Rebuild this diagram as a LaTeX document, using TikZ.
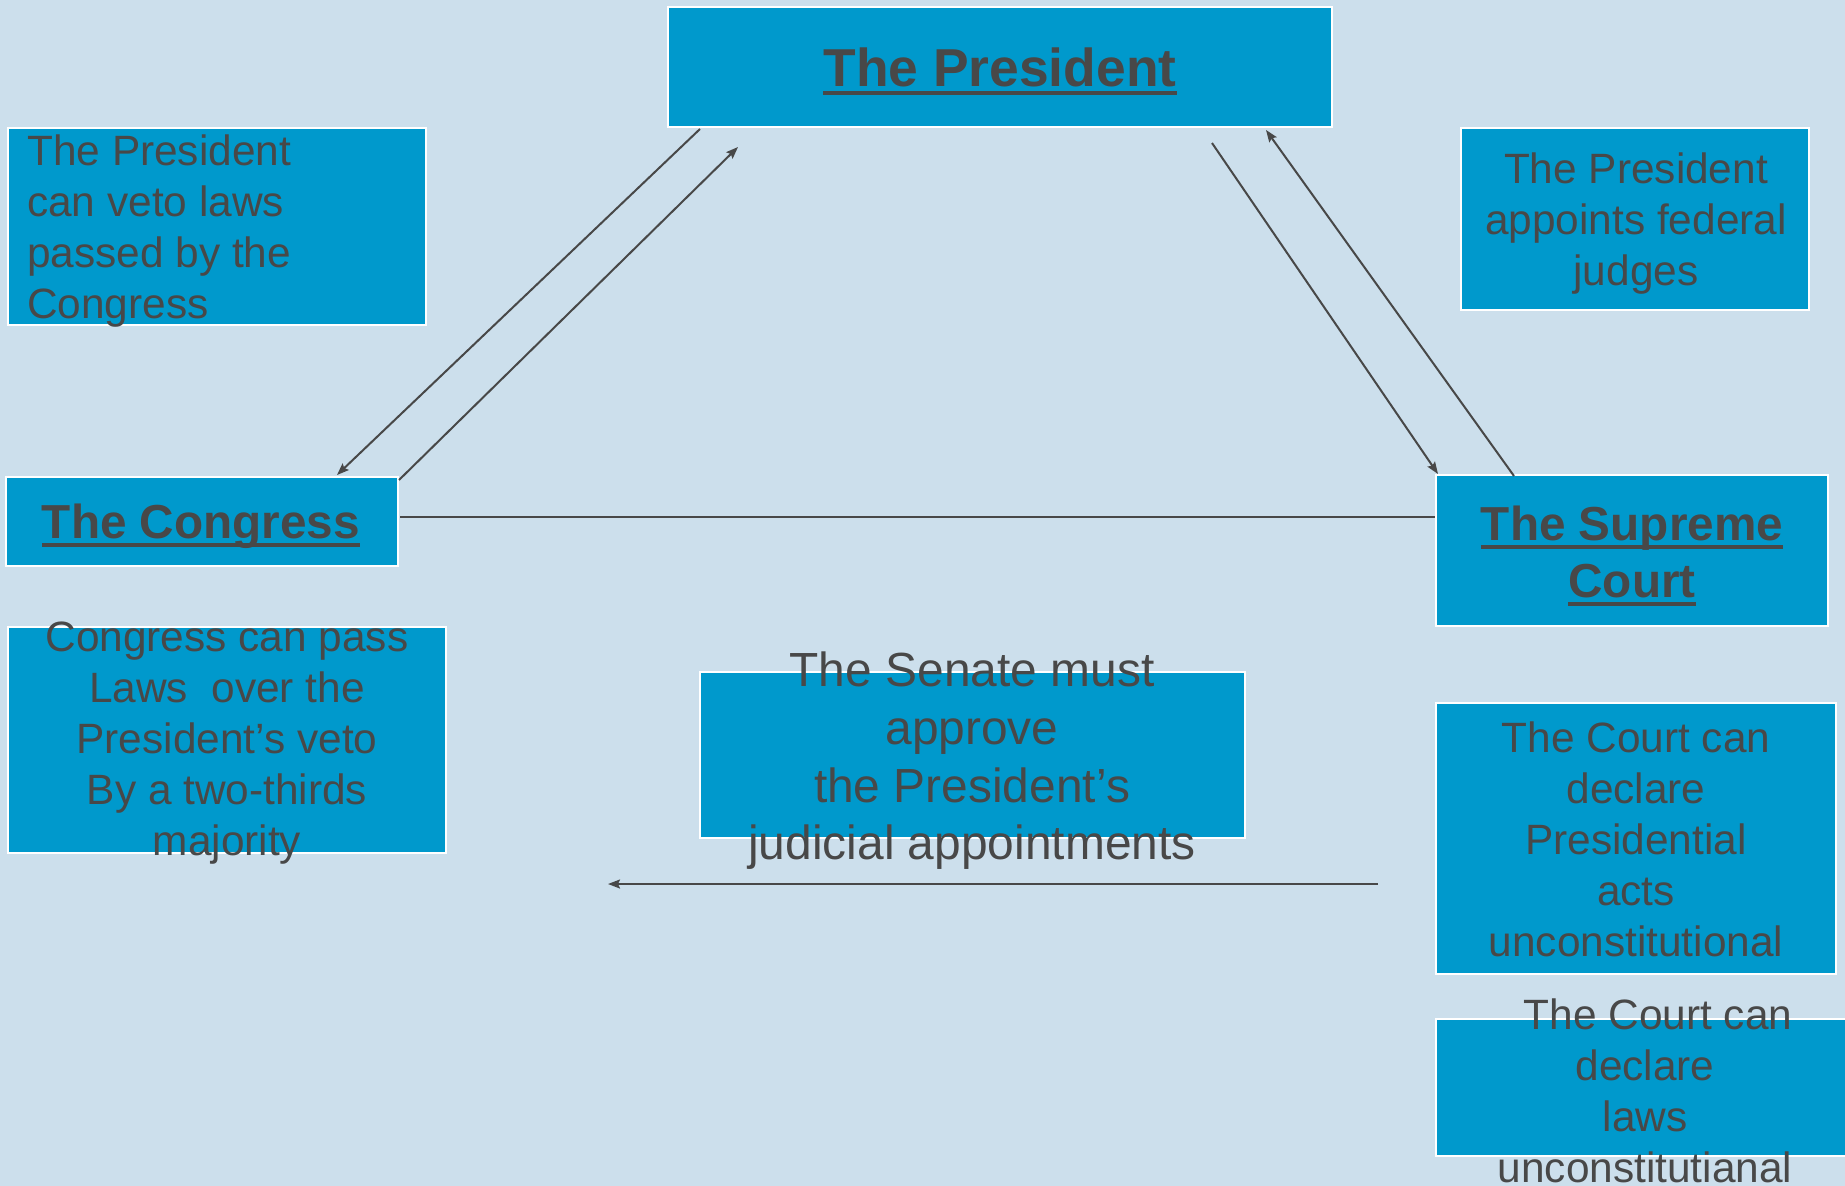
\documentclass[tikz,border=0pt]{standalone}
\usepackage{fontspec}
\setmainfont{Liberation Sans}
\usetikzlibrary{arrows.meta,calc}
\definecolor{bg}{RGB}{204,223,236}
\definecolor{boxblue}{RGB}{0,153,204}
\definecolor{ink}{RGB}{72,72,72}
\newsavebox\ulbox
\newcommand\myul[1]{\sbox\ulbox{#1}\rlap{\rule[-9pt]{\wd\ulbox}{4pt}}\usebox\ulbox}
\begin{document}
\begin{tikzpicture}[x=1pt,y=-1pt,
  blbox/.style={draw=white,line width=2pt,fill=boxblue,inner sep=0pt},
  ttl/.style={text=ink,font=\fontsize{47.7}{57}\selectfont\bfseries,align=center,inner sep=0pt},
  bodytxt/.style={text=ink,font=\fontsize{42.4}{51}\selectfont,align=center,inner sep=0pt},
  conn/.style={draw=ink,line width=2pt},
  tipend/.style={-{Stealth[length=12pt,width=9pt,inset=2pt]}}
]
\fill[bg] (0,0) rectangle (1845,1186);
\useasboundingbox (0,0) rectangle (1845,1186);

% boxes
\node[blbox,minimum width=664pt,minimum height=120pt] (pres) at (1000,67) {};
\node[blbox,minimum width=418pt,minimum height=197pt] (veto) at (217,226.5) {};
\node[blbox,minimum width=348pt,minimum height=182pt] (appoint) at (1635,219) {};
\node[blbox,minimum width=392pt,minimum height=89pt] (congress) at (202,521.5) {};
\node[blbox,minimum width=392pt,minimum height=151pt] (court) at (1632,550.5) {};
\node[blbox,minimum width=438pt,minimum height=226pt] (override) at (227,740) {};
\node[blbox,minimum width=545pt,minimum height=166pt] (senate) at (972.5,755) {};
\node[blbox,minimum width=400pt,minimum height=271pt] (courtpres) at (1636,838.5) {};
\node[blbox,minimum width=420pt,minimum height=137pt] (courtlaws) at (1646,1087.5) {};

% titles
\node[ttl,font=\fontsize{53.4}{64}\selectfont\bfseries,anchor=base] (prest) at (1000,86) {\myul{The President}};
\node[ttl,anchor=base] (congresst) at (201,538) {\myul{The Congress}};
\node[ttl] (courtt) at (1632,556) {\myul{The Supreme}\\\myul{Court}};

% texts
\node[bodytxt,align=left,anchor=west] (vetot) at (27,231) {The President\\can veto laws\\passed by the\\Congress};
\node[bodytxt] (appointt) at (1636,224) {The President\\appoints federal\\judges};
\node[bodytxt] (overridet) at (227,743) {Congress can pass\\Laws\ \ over the\\President’s veto\\By a two-thirds\\majority};
\node[bodytxt,font=\fontsize{47.9}{57.6}\selectfont] (senatet) at (972,761) {The Senate must\\approve\\the President’s\\judicial appointments};
\node[bodytxt] (courtprest) at (1636,839) {The Court can\\declare\\Presidential\\acts\\unconstitutional};
\node[bodytxt] (courtlawst) at (1645,1091) {\hspace*{26pt}The Court can\\declare\\laws\\unconstitutianal};

% connectors
\draw[conn,tipend] ($(pres.south west)+(33,1)$) -- ($(congress.north west)+(332,-1)$);
\draw[conn,tipend] ($(congress.north east)+(0,4)$) -- ($(pres.south west)+(71,19)$);
\draw[conn,tipend] ($(pres.south east)+(-121,15)$) -- ($(court.north west)+(3,0)$);
\draw[conn,tipend] ($(court.north west)+(79,2)$) -- ($(pres.south east)+(-67,2)$);
\draw[conn] ($(congress.east)+(1,-4.5)$) coordinate (hl) -- (hl -| court.west);
\coordinate (sa) at ($(senate.south east)+(132,45)$);
\coordinate (sb) at ($(senate.south west)+(-91,45)$);
\draw[conn,tipend] (sa) -- (sb);
\end{tikzpicture}
\end{document}
